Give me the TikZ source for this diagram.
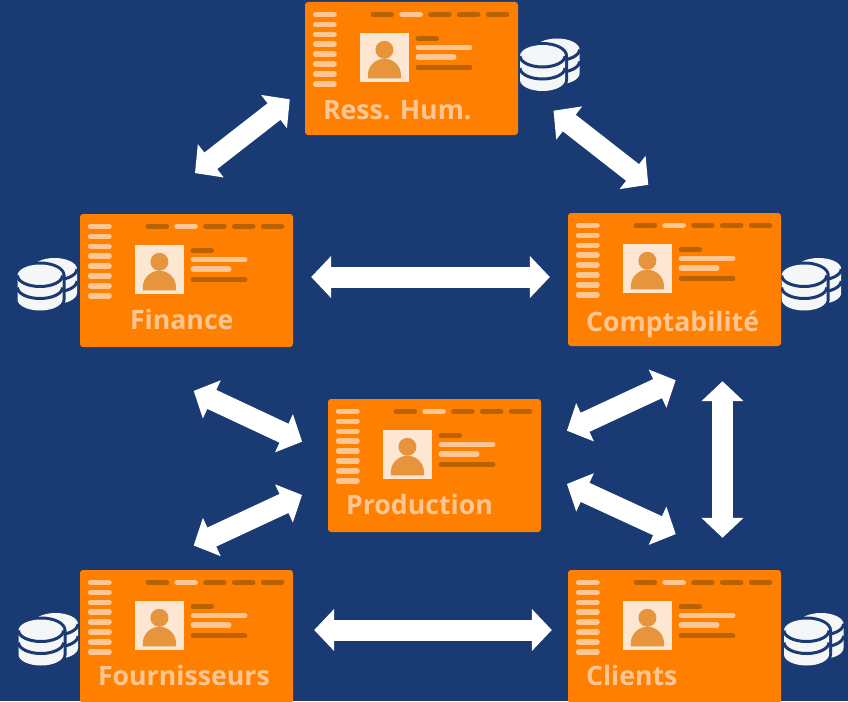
\documentclass[tikz,border=0pt]{standalone}
\usepackage{fontspec}
\setmainfont{Open Sans}
\usetikzlibrary{arrows.meta}

\definecolor{bgblue}{HTML}{193A73}
\definecolor{cardorange}{HTML}{FF8000}
\definecolor{cardlight}{HTML}{FDC692}
\definecolor{carddark}{HTML}{B86204}
\definecolor{photobg}{HTML}{FDE7D2}
\definecolor{photofg}{HTML}{E6953C}
\definecolor{dbwhite}{HTML}{F5F6F7}

\tikzset{
  cardbox/.style={fill=cardorange,minimum width=213pt,minimum height=133pt,inner sep=0pt,rounded corners=3pt},
  cardtext/.style={anchor=base west,inner sep=0pt,text=cardlight,font=\fontsize{26.7}{30}\selectfont\bfseries},
  barlight/.style={draw=cardlight,line width=5.5pt,line cap=round},
  bardark/.style={draw=carddark,line width=5.5pt,line cap=round},
  dblarrow/.style={draw=white,line width=21pt,{Triangle[length=20pt,width=41pt]}-{Triangle[length=20pt,width=41pt]}},
  pics/carddetail/.style={code={
    \foreach \y in {12.7,22.6,32.5,42.4,52.3,62.2,72.1,82} {
      \draw[barlight] (10.75,\y) -- (29.25,\y);
    }
    \foreach \x/\sty in {65.7/bardark,94.5/barlight,123.3/bardark,152.1/bardark,180.9/bardark} {
      \draw[\sty] (\x+2.75,12.7) -- (\x+20.85,12.7);
    }
    \fill[photobg] (55,31) rectangle (104,80);
    \fill[photofg] (79.6,48) circle (9pt);
    \fill[photofg] (63,76.5) -- (63,73.5) arc[start angle=180,end angle=0,x radius=16.6pt,y radius=16.6pt] -- (96.2,76.5) -- cycle;
    \draw[bardark] (113.5,36.7) -- (131.5,36.7);
    \draw[barlight] (113.5,45.7) -- (164.9,45.7);
    \draw[barlight] (113.5,55.3) -- (148.9,55.3);
    \draw[bardark] (113.5,65.7) -- (164.9,65.7);
  }},
  pics/dbstack/.style={code={
    % back stack, then front stack
    \foreach \cx/\cy in {14.5/-6.5,0/0} {
      \fill[dbwhite,preaction={draw=bgblue,line width=6pt}] (\cx-22.5,\cy) -- (\cx-22.5,\cy+24)
        arc[start angle=180,end angle=360,x radius=22.5pt,y radius=11pt] -- (\cx+22.5,\cy)
        arc[start angle=0,end angle=180,x radius=22.5pt,y radius=11pt] -- cycle;
      \draw[bgblue,line width=3pt] (\cx-22.5,\cy) arc[start angle=180,end angle=360,x radius=22.5pt,y radius=11pt];
      \draw[bgblue,line width=3pt] (\cx-22.5,\cy+12) arc[start angle=180,end angle=360,x radius=22.5pt,y radius=11pt];
    }
  }}
}

\begin{document}
\begin{tikzpicture}[x=1pt,y=-1pt]
  \useasboundingbox (0,0) rectangle (848,701);
  \clip (0,0) rectangle (848,701);
  \fill[bgblue] (0,0) rectangle (848,701);

  \pic at (542.5,56) {dbstack};
  \pic at (40,275.5) {dbstack};
  \pic at (804.2,275.5) {dbstack};
  \pic at (41,630.5) {dbstack};
  \pic at (806.5,630.5) {dbstack};

  \node[cardbox] (hum) at (411.5,68.5) {};
  \node[cardbox] (finance) at (186.5,280.5) {};
  \node[cardbox] (compta) at (674.5,279.5) {};
  \node[cardbox] (prod) at (434.5,465.5) {};
  \node[cardbox] (four) at (186.5,636.5) {};
  \node[cardbox] (clients) at (674.5,636.5) {};

  \pic at (hum.north west) {carddetail};
  \pic at (finance.north west) {carddetail};
  \pic at (compta.north west) {carddetail};
  \pic at (prod.north west) {carddetail};
  \pic at (four.north west) {carddetail};
  \pic at (clients.north west) {carddetail};

  \node[cardtext] (humtext) at ([shift={(18,117.3)}]hum.north west) {Ress. Hum.};
  \node[cardtext] (financetext) at ([shift={(50,116)}]finance.north west) {Finance};
  \node[cardtext] (comptatext) at ([shift={(18,118.7)}]compta.north west) {Comptabilité};
  \node[cardtext] (prodtext) at ([shift={(18,115.3)}]prod.north west) {Production};
  \node[cardtext] (fourtext) at ([shift={(18,116)}]four.north west) {Fournisseurs};
  \node[cardtext] (clientstext) at ([shift={(18,115.7)}]clients.north west) {Clients};

  \draw[dblarrow] ([shift={(-15,30.8)}]hum.west) -- ([shift={(8.5,-40.7)}]finance.north);
  \draw[dblarrow] ([shift={(35.3,42.2)}]hum.east) -- ([shift={(-26.2,-28)}]compta.north);
  \draw[dblarrow] ([shift={(18,-3.5)}]finance.east) -- ([shift={(-18,-2.5)}]compta.west);
  \draw[dblarrow] ([shift={(7.2,43.7)}]finance.south) -- ([shift={(-25.7,-23.8)}]prod.west);
  \draw[dblarrow] ([shift={(25.7,-34.8)}]prod.east) -- ([shift={(1.2,34)}]compta.south);
  \draw[dblarrow] ([shift={(48,35)}]compta.south) -- ([shift={(48,-32)}]clients.north);
  \draw[dblarrow] ([shift={(25.7,18.5)}]prod.east) -- ([shift={(1.2,-35.7)}]clients.north);
  \draw[dblarrow] ([shift={(-25.7,29.5)}]prod.west) -- ([shift={(7.2,-24.3)}]four.north);
  \draw[dblarrow] ([shift={(21,-6.5)}]four.east) -- ([shift={(-16,-6.5)}]clients.west);
\end{tikzpicture}
\end{document}
